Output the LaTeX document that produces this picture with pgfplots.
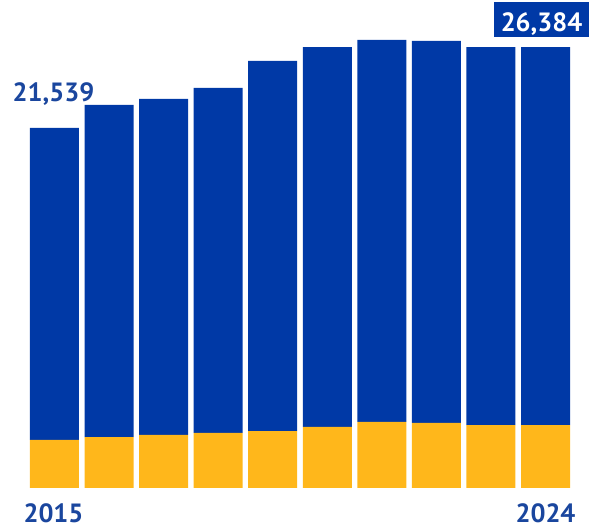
\documentclass[border=0pt]{standalone}
\usepackage{fontspec}
\setmainfont{PT Sans}
\usepackage{pgfplots}
\pgfplotsset{compat=1.18}
\definecolor{barblue}{HTML}{0039A6}
\definecolor{baryellow}{HTML}{FFB71B}
\definecolor{txtblue}{HTML}{1A469E}
\newcommand{\lbl}{\bfseries\fontsize{26.5}{28}\selectfont}
\begin{document}
\begin{tikzpicture}[x=1bp,y=1bp]
\path[use as bounding box] (0,0) rectangle (590,531);
\begin{axis}[
    at={(30bp,43bp)}, anchor=south west,
    scale only axis,
    width=540bp, height=488bp,
    xmin=-0.4487, xmax=9.4487,
    ymin=0, ymax=29197,
    ybar stacked,
    bar width=49bp,
    hide axis,
    clip=false,
]
% yellow base segment
\addplot[fill=baryellow, draw=none] coordinates {
  (0,2872) (1,3051) (2,3171) (3,3291) (4,3410)
  (5,3650) (6,3949) (7,3889) (8,3769) (9,3769)};
% blue segment (total minus yellow)
\addplot[fill=barblue, draw=none] coordinates {
  (0,18667) (1,19864) (2,20103) (3,20641) (4,22137)
  (5,22734) (6,22855) (7,22855) (8,22615) (9,22615)};
\node[txtblue, font=\lbl, anchor=base, yshift=26bp, xshift=-1bp] at (axis cs:0,21539) {21,539};
\node[white, font=\lbl, fill=barblue, anchor=base, yshift=16bp, xshift=-4bp,
      inner xsep=7bp, inner ysep=6bp, text height=23bp, text depth=0bp] at (axis cs:9,26384) {26,384};
\node[txtblue, font=\lbl, anchor=base, yshift=-35bp, xshift=-1bp, inner ysep=0pt, text depth=0bp] at (axis cs:0,0) {2015};
\node[txtblue, font=\lbl, anchor=base, yshift=-35bp, inner ysep=0pt, text depth=0bp] at (axis cs:9,0) {2024};
\end{axis}
\end{tikzpicture}
\end{document}
